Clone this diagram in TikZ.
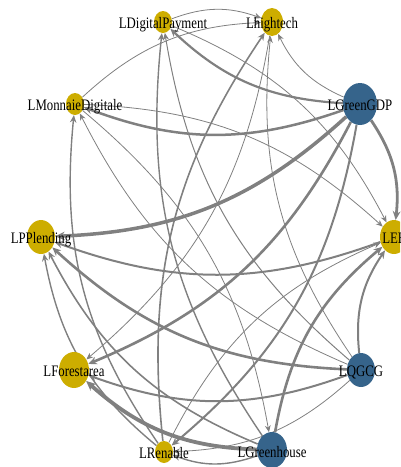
\documentclass[tikz,border=0pt]{standalone}
\usepackage{fontspec}
\usepackage{graphicx}
\setmainfont{Liberation Serif}
\usetikzlibrary{shapes.geometric,arrows.meta,backgrounds}
\definecolor{goldvtx}{HTML}{CDAD00}
\definecolor{steelvtx}{HTML}{36648B}
\definecolor{edgegray}{HTML}{808080}
\begin{document}
\begin{tikzpicture}[x=1pt,y=-1pt,
  vtx/.style={ellipse, inner sep=0pt, draw=none},
  yv/.style={vtx, fill=goldvtx},
  bv/.style={vtx, fill=steelvtx},
  lbl/.style={font=\fontsize{16}{16}\selectfont, anchor=base, inner sep=0pt, text=black},
  lnk/.style={draw=edgegray, -{Stealth[length=6pt 1,width=5pt 1]}, bend left=20},
]
\useasboundingbox (0,0) rectangle (400,467);
\clip (0,0) rectangle (400,467);
% vertices
\node[yv, minimum width=18pt, minimum height=22pt] (DP) at (163,22) {};
\node[yv, minimum width=22pt, minimum height=28pt] (HT) at (272,22) {};
\node[bv, minimum width=34pt, minimum height=42pt] (GDP) at (360,104) {};
\node[yv, minimum width=28pt, minimum height=34pt] (EE) at (394,237) {};
\node[bv, minimum width=28pt, minimum height=34pt] (QG) at (361,370) {};
\node[bv, minimum width=30pt, minimum height=36pt] (GH) at (272,450) {};
\node[yv, minimum width=18pt, minimum height=22pt] (RE) at (164,452) {};
\node[yv, minimum width=30pt, minimum height=36pt] (FO) at (74,370) {};
\node[yv, minimum width=28pt, minimum height=34pt] (PP) at (41,237) {};
\node[yv, minimum width=18pt, minimum height=22pt] (MD) at (75,104) {};
% edges
\begin{pgfonlayer}{background}
\draw[lnk, line width=3.5pt] (GDP) to (PP);
\draw[lnk, line width=2.5pt] (GDP) to (MD);
\draw[lnk, line width=2.2pt] (GDP) to (DP);
\draw[lnk, line width=0.8pt] (GDP) to (HT);
\draw[lnk, line width=2.8pt] (GDP) to (EE);
\draw[lnk, line width=2.6pt] (GDP) to (FO);
\draw[lnk, line width=2.0pt] (GDP) to (RE);
\draw[lnk, line width=2.6pt] (QG) to (PP);
\draw[lnk, line width=2.0pt] (QG) to (FO);
\draw[lnk, line width=2.0pt] (QG) to (EE);
\draw[lnk, line width=0.8pt] (QG) to (RE);
\draw[lnk, line width=1.0pt] (QG) to (DP);
\draw[lnk, line width=0.8pt] (QG) to (HT);
\draw[lnk, line width=0.8pt] (QG) to (MD);
\draw[lnk, line width=2.6pt] (GH) to (EE);
\draw[lnk, line width=3.8pt] (GH) to (FO);
\draw[lnk, line width=1.4pt] (GH) to (RE);
\draw[lnk, line width=1.4pt] (GH) to (DP);
\draw[lnk, line width=1.6pt] (GH) to (PP);
\draw[lnk, line width=0.8pt] (MD) to (HT);
\draw[lnk, line width=0.8pt] (MD) to (EE);
\draw[lnk, line width=0.8pt] (MD) to (GH);
\draw[lnk, line width=1.6pt] (RE) to (HT);
\draw[lnk, line width=1.4pt] (RE) to (PP);
\draw[lnk, line width=1.4pt] (RE) to (MD);
\draw[lnk, line width=0.8pt] (RE) to (EE);
\draw[lnk, line width=0.8pt] (DP) to (HT);
\draw[lnk, line width=0.8pt] (DP) to (EE);
\draw[lnk, line width=2.0pt] (EE) to (PP);
\draw[lnk, line width=0.8pt] (HT) to (FO);
\end{pgfonlayer}
% labels
\node[lbl] (DPl) at (163,28) {\scalebox{0.8}[1]{LDigitalPayment}};
\node[lbl] (HTl) at (272,28) {\scalebox{0.8}[1]{Lhightech}};
\node[lbl] (GDPl) at (360,110) {\scalebox{0.8}[1]{LGreenGDP}};
\node[lbl] (EEl) at (394,243) {\scalebox{0.8}[1]{LEE}};
\node[lbl] (QGl) at (361,376) {\scalebox{0.8}[1]{LQGCG}};
\node[lbl] (GHl) at (272,457) {\scalebox{0.8}[1]{LGreenhouse}};
\node[lbl] (REl) at (164,458) {\scalebox{0.8}[1]{LRenable}};
\node[lbl] (FOl) at (74,376) {\scalebox{0.8}[1]{LForestarea}};
\node[lbl] (PPl) at (41,243) {\scalebox{0.8}[1]{LPPlending}};
\node[lbl] (MDl) at (75,110) {\scalebox{0.8}[1]{LMonnaieDigitale}};
\end{tikzpicture}
\end{document}
